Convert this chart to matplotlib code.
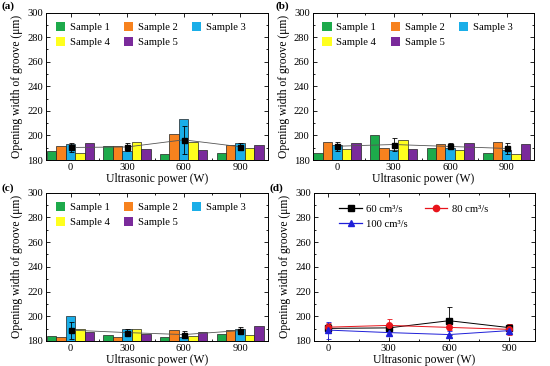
import numpy as np
import matplotlib
matplotlib.use("Agg")
import matplotlib.pyplot as plt
from matplotlib.patches import Patch
from matplotlib.lines import Line2D
from matplotlib.ticker import MultipleLocator

plt.rcParams['font.family'] = ['Liberation Serif', 'DejaVu Serif']

powers = [0, 300, 600, 900]
tick_labels = ['0', '300', '600', '900']
sample_names = ['Sample 1', 'Sample 2', 'Sample 3', 'Sample 4', 'Sample 5']
sample_colors = ['#1DAA4B', '#F7821E', '#1AAEE8', '#FFFF1E', '#7A2A9B']

a_s1 = [187, 191, 185, 186]
a_s2 = [191, 191, 201, 192]
a_s3 = [193, 187, 213, 194]
a_s4 = [186, 195, 195, 190]
a_s5 = [194, 189, 188, 192]

b_s1 = [186, 200, 190, 186]
b_s2 = [195, 190, 193, 195]
b_s3 = [192, 188, 190, 188]
b_s4 = [189, 196, 188, 185]
b_s5 = [194, 189, 194, 193]

c_s1 = [184, 185, 183, 186]
c_s2 = [183, 183, 189, 189]
c_s3 = [200, 190, 183, 190]
c_s4 = [190, 190, 184, 185]
c_s5 = [187, 186, 187, 192]

flow_labels = ['60 cm³/s', '80 cm³/s', '100 cm³/s']
flow_colors = ['black', '#E8141B', '#1F1FD8']
flow_markers = ['s', 'o', '^']

panels = {
    'a': [a_s1, a_s2, a_s3, a_s4, a_s5],
    'b': [b_s1, b_s2, b_s3, b_s4, b_s5],
    'c': [c_s1, c_s2, c_s3, c_s4, c_s5],
}

W, H = 550, 366
fig = plt.figure(figsize=(W / 100, H / 100), dpi=100)


def make_ax(l, r, t, b):
    return fig.add_axes([l / W, 1 - b / H, (r - l) / W, (b - t) / H])


ax_a = make_ax(46, 267.5, 12.5, 160)
ax_b = make_ax(312.5, 534, 12.5, 160)
ax_c = make_ax(46, 267.5, 192.5, 341)
ax_d = make_ax(314, 534.5, 192.5, 341)

TICK_FS = 7.6
LAB_FS = 8.4


def style(ax, xlim):
    ax.set_xlim(*xlim)
    ax.set_ylim(180, 300)
    ax.set_xticks(powers)
    ax.set_xticklabels(tick_labels)
    ax.xaxis.set_minor_locator(MultipleLocator(150))
    ax.yaxis.set_major_locator(MultipleLocator(20))
    ax.yaxis.set_minor_locator(MultipleLocator(10))
    ax.tick_params(which='both', direction='in', top=True, right=True,
                   labelsize=TICK_FS, width=0.6, pad=2)
    ax.tick_params(which='major', length=3)
    ax.tick_params(which='minor', length=1.6)
    for s in ax.spines.values():
        s.set_linewidth(0.7)
    ax.set_xlabel('Ultrasonic power (W)', fontsize=LAB_FS, labelpad=1)
    ax.set_ylabel('Opening width of groove (μm)', fontsize=LAB_FS, labelpad=3)


means = {}
stds = {}
bw = 50
leg_order = [0, 3, 1, 4, 2]
for key, ax in zip(['a', 'b', 'c'], [ax_a, ax_b, ax_c]):
    series = panels[key]
    for i, (vals, col) in enumerate(zip(series, sample_colors)):
        x = np.array(powers) + (i - 2) * bw
        ax.bar(x, vals, width=bw, color=col, edgecolor='#222222', linewidth=0.5, zorder=2)
    arr = np.array(series, dtype=float)
    m = arr.mean(axis=0)
    s = arr.std(axis=0, ddof=1)
    means[key] = m
    stds[key] = s
    ax.plot(powers, m, color='#555555', lw=0.6, zorder=3)
    ax.errorbar(powers, m, yerr=s, fmt='s', color='black', ms=3.6, elinewidth=0.6,
                capsize=1.8, capthick=0.6, zorder=4)
    style(ax, (-130, 1045))
    handles = [Patch(facecolor=c, edgecolor='none') for c in sample_colors]
    ax.legend([handles[i] for i in leg_order], [sample_names[i] for i in leg_order],
              ncol=3, loc='upper left', bbox_to_anchor=(0.045, 0.935),
              frameon=False, fontsize=7.7, handlelength=0.85, handleheight=0.85,
              handletextpad=0.45, columnspacing=1.35, labelspacing=0.5,
              borderpad=0, borderaxespad=0)

# Panel d
lines = []
for key, lab, col, mk in zip(['a', 'b', 'c'], flow_labels, flow_colors, flow_markers):
    ax_d.errorbar(powers, means[key], yerr=stds[key], color=col, marker=mk, ms=4,
                  lw=0.7, elinewidth=0.6, capsize=1.8, capthick=0.6, zorder=3)
    lines.append(Line2D([], [], color=col, marker=mk, ms=4.5, lw=0.9))
style(ax_d, (-72, 1025))
order = [0, 2, 1]
ax_d.legend([lines[i] for i in order], [flow_labels[i] for i in order], ncol=2,
            loc='upper left', bbox_to_anchor=(0.115, 0.92), frameon=False, fontsize=7.7,
            handlelength=2.1, handletextpad=0.4, columnspacing=1.6, labelspacing=0.5,
            borderpad=0, borderaxespad=0)

for txt, x, y in [('(a)', 1, 1), ('(b)', 276, 1), ('(c)', 1, 183), ('(d)', 270, 183)]:
    fig.text(x / W, 1 - y / H, txt, fontsize=8, fontweight='bold', va='top', ha='left')

fig.savefig('out.png', dpi=100)
